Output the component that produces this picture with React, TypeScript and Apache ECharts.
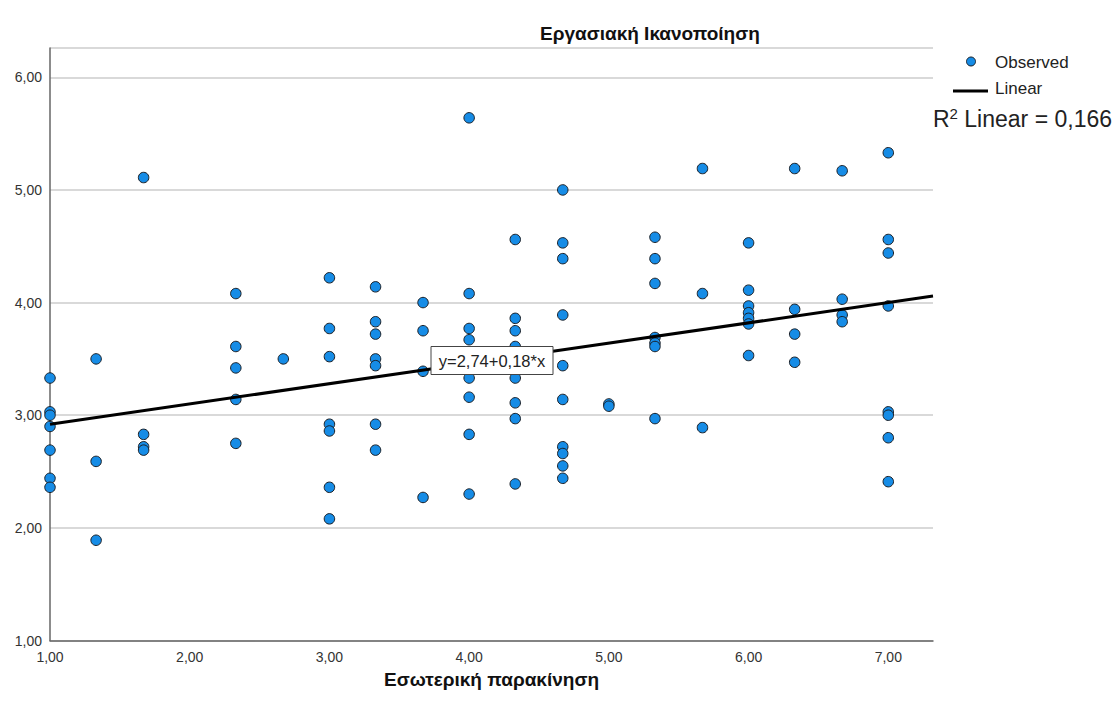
import React, { useEffect, useRef } from "react";
import * as echarts from "echarts";

// X levels (Εσωτερική παρακίνηση) and the observed Y values at each level (Εργασιακή Ικανοποίηση)
const xLevels = [1, 1.33, 1.67, 2.33, 2.67, 3, 3.33, 3.67, 4, 4.33, 4.67, 5, 5.33, 5.67, 6, 6.33, 6.67, 7];
const yAtLevel = [
  [3.33, 3.03, 3.0, 2.9, 2.69, 2.44, 2.36],
  [3.5, 2.59, 1.89],
  [5.11, 2.83, 2.72, 2.69],
  [4.08, 3.61, 3.42, 3.14, 2.75],
  [3.5],
  [4.22, 3.77, 3.52, 2.92, 2.86, 2.36, 2.08],
  [4.14, 3.83, 3.72, 3.5, 3.44, 2.92, 2.69],
  [4.0, 3.75, 3.39, 2.27],
  [5.64, 4.08, 3.77, 3.67, 3.33, 3.16, 2.83, 2.3],
  [4.56, 3.86, 3.75, 3.61, 3.33, 3.11, 2.97, 2.39],
  [5.0, 4.53, 4.39, 3.89, 3.44, 3.14, 2.72, 2.66, 2.55, 2.44],
  [3.1, 3.08],
  [4.58, 4.39, 4.17, 3.69, 3.64, 3.61, 2.97],
  [5.19, 4.08, 2.89],
  [4.53, 4.11, 3.97, 3.91, 3.86, 3.81, 3.53],
  [5.19, 3.94, 3.72, 3.47],
  [5.17, 4.03, 3.89, 3.83],
  [5.33, 4.56, 4.44, 3.97, 3.03, 3.0, 2.8, 2.41],
];

const fitIntercept = 2.74;
const fitSlope = 0.18;
const fitRange = [1, 7.32];
const yRange = [1, 6.26];
const tickInterval = 1;

const titleText = "Εργασιακή Ικανοποίηση";
const xAxisName = "Εσωτερική παρακίνηση";
const legendNames = ["Observed", "Linear"];
const r2Text = "0,166";
const equationText = "y=2,74+0,18*x";

const FONT = "'Liberation Sans', Arial, sans-serif";
const fmt = (v: number) => v.toFixed(2).replace(".", ",");

export default function App() {
  const ref = useRef<HTMLDivElement>(null);
  useEffect(() => {
    if (!ref.current) return;
    const chart = echarts.init(ref.current, undefined, { renderer: "svg" });
    const points: number[][] = [];
    xLevels.forEach((x, i) => yAtLevel[i].forEach((y) => points.push([x, y])));
    const fitLine = fitRange.map((x) => [x, fitIntercept + fitSlope * x]);

    chart.setOption({
      animation: false,
      backgroundColor: "#ffffff",
      textStyle: { fontFamily: FONT },
      title: {
        text: titleText,
        left: 535,
        top: 19,
        textStyle: { fontFamily: FONT, fontSize: 19, fontWeight: "bold", color: "#111" },
      },
      grid: { left: 50, right: 187, top: 48, bottom: 75.5, containLabel: false },
      xAxis: {
        type: "value",
        min: fitRange[0],
        max: fitRange[1],
        interval: tickInterval,
        name: xAxisName,
        nameLocation: "middle",
        nameGap: 29,
        nameTextStyle: { fontFamily: FONT, fontSize: 19, fontWeight: "bold", color: "#111" },
        axisLine: { lineStyle: { color: "#666", width: 1.5 } },
        axisTick: { show: false },
        splitLine: { show: false },
        axisLabel: { formatter: fmt, fontSize: 14, color: "#333", margin: 9, fontFamily: FONT, showMaxLabel: false },
      },
      yAxis: {
        type: "value",
        min: yRange[0],
        max: yRange[1],
        interval: tickInterval,
        axisLine: { show: true, lineStyle: { color: "#666", width: 1.5 } },
        axisTick: { show: false },
        splitLine: { show: true, lineStyle: { color: "#cccccc", width: 1.5 } },
        axisLabel: { formatter: fmt, fontSize: 14, color: "#333", margin: 8, fontFamily: FONT, showMaxLabel: false },
      },
      series: [
        {
          name: legendNames[0],
          type: "scatter",
          data: points,
          symbol: "circle",
          symbolSize: 10.5,
          itemStyle: { color: "#168ce6", borderColor: "#1a1f26", borderWidth: 1, opacity: 1 },
          z: 3,
        },
        {
          name: legendNames[1],
          type: "line",
          data: fitLine,
          showSymbol: false,
          symbol: "none",
          lineStyle: { color: "#000", width: 3 },
          z: 4,
        },
      ],
      graphic: [
        { type: "circle", z: 100, shape: { cx: 971, cy: 61.5, r: 4.5 }, style: { fill: "#168ce6", stroke: "#1a1f26", lineWidth: 1 } },
        { type: "text", z: 100, x: 995, y: 62, style: { text: legendNames[0], fontSize: 17, fontFamily: FONT, fill: "#222", verticalAlign: "middle" } },
        { type: "line", z: 100, shape: { x1: 953, y1: 91, x2: 988, y2: 91 }, style: { stroke: "#000", lineWidth: 3 } },
        { type: "text", z: 100, x: 995, y: 88, style: { text: legendNames[1], fontSize: 17, fontFamily: FONT, fill: "#222", verticalAlign: "middle" } },
        {
          type: "text",
          z: 100,
          x: 933,
          y: 118,
          style: {
            text: "{a|R}{s|2}{a| Linear = " + r2Text + "}",
            verticalAlign: "middle",
            rich: {
              a: { fontSize: 23, fontFamily: FONT, fill: "#222", verticalAlign: "bottom" },
              s: { fontSize: 15, fontFamily: FONT, fill: "#222", verticalAlign: "top", padding: [0, 0, 10, 0] },
            },
          },
        },
        {
          type: "rect",
          z: 100,
          shape: { x: 431, y: 346.5, width: 122, height: 28 },
          style: { fill: "#ffffff", stroke: "#444", lineWidth: 1 },
        },
        {
          type: "text",
          z: 101,
          x: 492,
          y: 361,
          style: { text: equationText, fontSize: 16.5, fontFamily: FONT, fill: "#222", align: "center", verticalAlign: "middle" },
        },
      ],
    });
    return () => chart.dispose();
  }, []);
  return <div ref={ref} style={{ position: "fixed", left: 0, top: 0, width: 1120, height: 716 }} />;
}
